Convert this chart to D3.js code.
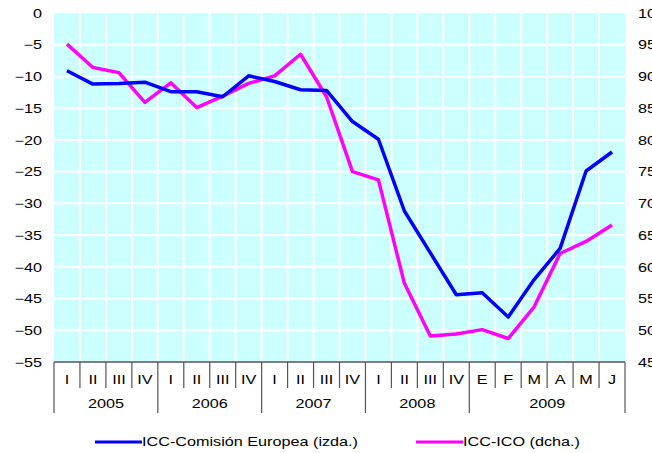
<!DOCTYPE html>
<html>
<head>
<meta charset="utf-8">
<script src="https://cdn.jsdelivr.net/npm/d3@7"></script>
<style>
body { margin: 0; background: #fff; }
text { font-family: "Liberation Sans", Arial, sans-serif; fill: #000; }
</style>
</head>
<body>
<div id="chart"></div>
<script>
//Categories (quarters for 2005-2008, months for 2009)
var periods = ["I","II","III","IV","I","II","III","IV","I","II","III","IV","I","II","III","IV","E","F","M","A","M","J"];
var years = ["2005","2006","2007","2008","2009"];
var yearSpan = [4, 4, 4, 4, 6]; //number of periods in each year

//Series values
var iccCE = [-9.1,-11.2,-11.1,-10.9,-12.4,-12.4,-13.2,-9.9,-10.8,-12.1,-12.2,-17.1,-19.9,-31.2,-37.8,-44.4,-44.1,-47.9,-42.0,-37.1,-24.9,-21.9];
var iccICO = [95.1,91.4,90.6,85.9,89.0,85.1,86.9,88.9,90.1,93.5,86.8,75.0,73.7,57.4,49.1,49.4,50.1,48.7,53.7,62.1,64.0,66.6];

//Tick labels
var leftTicks = [0,-5,-10,-15,-20,-25,-30,-35,-40,-45,-50,-55];
var rightTicks = [100,95,90,85,80,75,70,65,60,55,50,45];

var seriesNames = ["ICC-Comisión Europea (izda.)", "ICC-ICO (dcha.)"];

var w = 652;
var h = 453;
//plot area edges (named so they don't clash with window.top)
var plotL = 54, plotR = 625, plotT = 13, plotB = 362;
var stretch = 1.35; //text in the picture is wider than normal

var svg = d3.select("#chart")
            .append("svg")
            .attr("width", w)
            .attr("height", h);

var xscale = d3.scaleBand()
                .domain(d3.range(periods.length))
                .range([plotL, plotR]);

var yleft = d3.scaleLinear()
                .domain([-55, 0])
                .range([plotB, plotT]);

var yright = d3.scaleLinear()
                .domain([45, 100])
                .range([plotB, plotT]);

//plot background
svg.append("rect")
    .attr("x", plotL)
    .attr("y", plotT)
    .attr("width", plotR - plotL)
    .attr("height", plotB - plotT)
    .attr("fill", "#ccffff");

//white horizontal grid
svg.append("g")
    .selectAll("line")
    .data(leftTicks.slice(1, -1))
    .enter()
    .append("line")
    .attr("x1", plotL)
    .attr("x2", plotR)
    .attr("y1", d => yleft(d))
    .attr("y2", d => yleft(d))
    .attr("stroke", "#fff")
    .attr("stroke-width", 2);

//white vertical grid at category boundaries
svg.append("g")
    .selectAll("line")
    .data(d3.range(1, periods.length))
    .enter()
    .append("line")
    .attr("x1", d => xscale(d))
    .attr("x2", d => xscale(d))
    .attr("y1", plotT)
    .attr("y2", plotB)
    .attr("stroke", "#fff")
    .attr("stroke-width", 2);

//left axis labels
var yaxisL = d3.axisLeft(yleft).tickValues(leftTicks).tickSize(0);
var gl = svg.append("g")
    .attr("transform", "translate(" + plotL + ",0)")
    .call(yaxisL);
gl.select(".domain").remove();
gl.selectAll("text")
    .attr("x", -12 / stretch)
    .attr("dy", "0.35em")
    .attr("transform", "scale(" + stretch + ",1)")
    .style("font-size", "12px")
    .style("font-family", "'Liberation Sans', Arial, sans-serif");

//right axis labels
var yaxisR = d3.axisRight(yright).tickValues(rightTicks).tickSize(0);
var gr = svg.append("g")
    .attr("transform", "translate(" + plotR + ",0)")
    .call(yaxisR);
gr.select(".domain").remove();
gr.selectAll("text")
    .attr("x", 13 / stretch)
    .attr("dy", "0.35em")
    .attr("transform", "scale(" + stretch + ",1)")
    .style("font-size", "12px")
    .style("font-family", "'Liberation Sans', Arial, sans-serif");

//category axis box
var axisColor = "#555";
svg.append("line")
    .attr("x1", plotL).attr("x2", plotR)
    .attr("y1", plotB).attr("y2", plotB)
    .attr("stroke", axisColor)
    .attr("stroke-width", 1.5);

//year boundaries (index where each year starts)
var starts = [0];
yearSpan.forEach(function(s, i) { starts.push(starts[i] + s); });

//small ticks between periods
svg.append("g")
    .selectAll("line")
    .data(d3.range(1, periods.length).filter(d => starts.indexOf(d) < 0))
    .enter()
    .append("line")
    .attr("x1", d => xscale(d))
    .attr("x2", d => xscale(d))
    .attr("y1", plotB)
    .attr("y2", 388)
    .attr("stroke", axisColor)
    .attr("stroke-width", 1.2);

//long ticks between years
svg.append("g")
    .selectAll("line")
    .data(starts)
    .enter()
    .append("line")
    .attr("x1", d => d < periods.length ? xscale(d) : plotR)
    .attr("x2", d => d < periods.length ? xscale(d) : plotR)
    .attr("y1", plotB)
    .attr("y2", 413)
    .attr("stroke", axisColor)
    .attr("stroke-width", 1.2);

//period labels
svg.append("g")
    .selectAll("text")
    .data(periods)
    .enter()
    .append("text")
    .attr("transform", (d, i) => "translate(" + (xscale(i) + xscale.bandwidth() / 2) + ",384) scale(" + stretch + ",1)")
    .attr("text-anchor", "middle")
    .style("font-size", "12px")
    .text(d => d);

//year labels
svg.append("g")
    .selectAll("text")
    .data(years)
    .enter()
    .append("text")
    .attr("transform", function(d, i)
    {
        var x0 = xscale(starts[i]);
        var x1 = starts[i + 1] < periods.length ? xscale(starts[i + 1]) : plotR;
        return "translate(" + ((x0 + x1) / 2) + ",408) scale(" + stretch + ",1)";
    })
    .attr("text-anchor", "middle")
    .style("font-size", "12px")
    .text(d => d);

//lines
var cx = i => xscale(i) + xscale.bandwidth() / 2;

var lineL = d3.line().x((d, i) => cx(i)).y(d => yleft(d));
var lineR = d3.line().x((d, i) => cx(i)).y(d => yright(d));

svg.append("path")
    .attr("d", lineR(iccICO))
    .attr("fill", "none")
    .attr("stroke", "#ff00ff")
    .attr("stroke-width", 3.5)
    .attr("stroke-linejoin", "round");

svg.append("path")
    .attr("d", lineL(iccCE))
    .attr("fill", "none")
    .attr("stroke", "#0000ff")
    .attr("stroke-width", 3.5)
    .attr("stroke-linejoin", "round");

//legend
var legend = [
    {name: seriesNames[0], color: "#0000ff", x: 95},
    {name: seriesNames[1], color: "#ff00ff", x: 416}
];
var lg = svg.append("g")
    .selectAll("g")
    .data(legend)
    .enter()
    .append("g");
lg.append("line")
    .attr("x1", d => d.x)
    .attr("x2", d => d.x + 47)
    .attr("y1", 442)
    .attr("y2", 442)
    .attr("stroke", d => d.color)
    .attr("stroke-width", 3);
lg.append("text")
    .attr("transform", d => "translate(" + (d.x + 47) + ",446) scale(" + stretch + ",1)")
    .style("font-size", "12px")
    .text(d => d.name);
</script>
</body>
</html>
